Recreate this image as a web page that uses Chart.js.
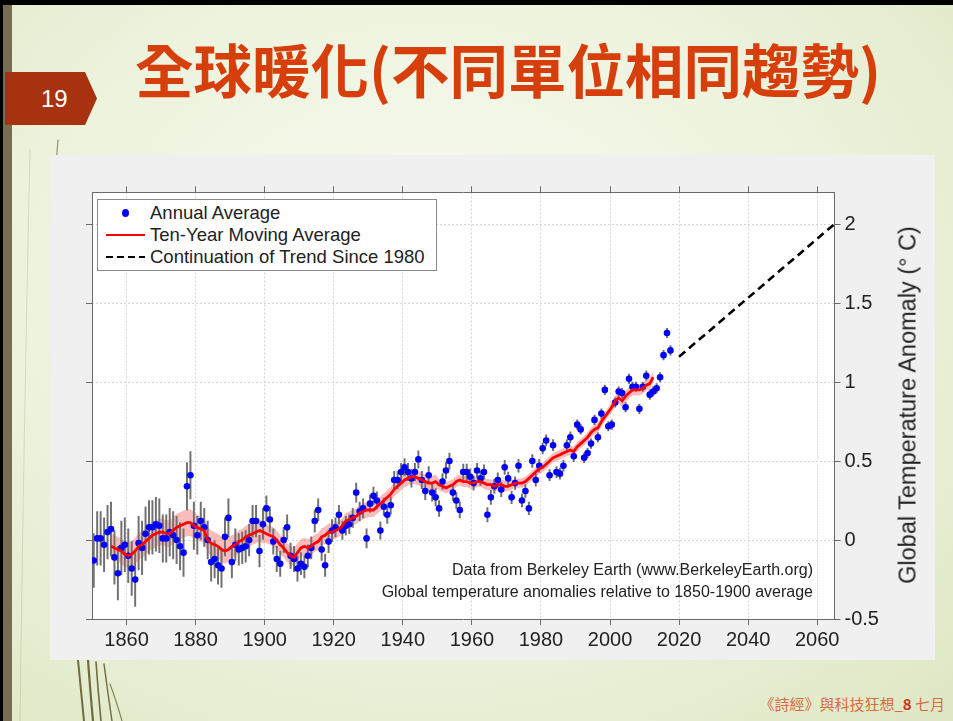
<!DOCTYPE html>
<html><head><meta charset="utf-8">
<script src="https://cdn.jsdelivr.net/npm/chart.js@4"></script>
<style>
html,body{margin:0;padding:0;}
body{width:953px;height:721px;overflow:hidden;background:#000;position:relative;font-family:"Liberation Sans",Arial,sans-serif;}
.abs{position:absolute;}
#slide{left:3px;top:5px;width:950px;height:716px;background:radial-gradient(ellipse 75% 80% at 45% 40%, #f8faf1 0%, #eef3de 55%, #dfe8c6 100%);}
#lbar{left:3px;top:5px;width:9px;height:716px;background:#766d52;}
#num{left:5px;top:72px;width:92px;height:53px;background:#a8320f;clip-path:polygon(0 0,87% 0,100% 50%,87% 100%,0 100%);color:#fff;font-size:24px;line-height:53px;text-indent:36px;}
#title{left:0;top:28px;width:1016px;text-align:center;color:#d63f0c;font-family:"Noto Sans CJK TC",sans-serif;font-weight:bold;font-size:58.5px;line-height:80px;white-space:nowrap;}
#box{left:50px;top:155px;width:885px;height:505px;background:#f0f0f0;}
#legend{left:97px;top:199px;width:338px;height:70px;background:#fff;border:1px solid #8a8a8a;}
.lt{position:absolute;left:150px;font-size:18.5px;color:#222;line-height:22px;white-space:nowrap;}
.note{position:absolute;right:140px;font-size:16px;color:#222;line-height:20px;white-space:nowrap;}
#ytitle{left:908px;top:405px;transform:translate(-50%,-50%) rotate(-90deg);font-size:23.5px;color:#222;white-space:nowrap;}
#foot{right:8px;top:693px;font-family:"Noto Sans CJK TC",sans-serif;font-size:15px;color:#d76b42;white-space:nowrap;}
#foot b{color:#c23a1c;}
</style></head>
<body>
<div id="slide" class="abs"></div>
<div id="lbar" class="abs"></div>
<svg class="abs" style="left:0;top:0" width="953" height="721">
 <g fill="none" stroke="#6f6b3e" stroke-linecap="round">
  <path d="M58 140 Q57 152 56 166" stroke-width="1.2" opacity="0.7"/>
  <path d="M84 721 Q81 690 78 660" stroke-width="2"/>
  <path d="M93 721 Q90 688 88 660" stroke-width="2.2"/>
  <path d="M101 721 Q98 690 96 662" stroke-width="1.6"/>
  <path d="M112 721 Q108 694 104 664" stroke-width="1.4"/>
  <path d="M122 721 Q116 700 110 684" stroke-width="1.2" opacity="0.8"/>
  <path d="M20 721 Q24 420 30 150" stroke-width="1" opacity="0.18"/>
 </g>
</svg>
<div id="num" class="abs">19</div>
<div id="title" class="abs">全球暖化(不同單位相同趨勢)</div>
<div id="box" class="abs"><canvas id="c" width="885" height="505"></canvas></div>
<div id="legend" class="abs"></div>
<div class="abs" style="left:122px;top:209px;width:7px;height:8px;border-radius:50%;background:#0000ff"></div>
<div class="abs" style="left:106px;top:233.5px;width:39px;height:2.6px;background:#ff0000"></div>
<div class="abs" style="left:106px;top:255.5px;width:39px;height:2.6px;background:repeating-linear-gradient(90deg,#000 0 7px,transparent 7px 11px)"></div>
<div class="lt" style="top:202px">Annual Average</div>
<div class="lt" style="top:224px">Ten-Year Moving Average</div>
<div class="lt" style="top:246px">Continuation of Trend Since 1980</div>
<div class="note" style="top:560px">Data from Berkeley Earth (www.BerkeleyEarth.org)</div>
<div class="note" style="top:582px">Global temperature anomalies relative to 1850-1900 average</div>
<div id="ytitle" class="abs">Global Temperature Anomaly (° C)</div>
<div id="foot" class="abs">《詩經》與科技狂想_<b>8</b> 七月</div>
<script>
// ---- data ----
const annualStartYear = 1850;
const annualValues = [
 -0.13, 0.01, 0.01,-0.03, 0.05, 0.07,-0.11,-0.21,-0.05,-0.03,
 -0.10,-0.18,-0.25,-0.02,-0.05, 0.04, 0.08, 0.08, 0.10, 0.09,
  0.01, 0.01, 0.05, 0.03, 0.00,-0.04,-0.08, 0.34, 0.41, 0.09,
  0.03, 0.12, 0.08, 0.00,-0.14,-0.12,-0.16,-0.18, 0.02, 0.14,
 -0.14,-0.03,-0.06,-0.05,-0.04, 0.00, 0.12, 0.12,-0.07, 0.10,
  0.20, 0.13,-0.01,-0.12,-0.15, 0.00, 0.08,-0.10,-0.12,-0.18,
 -0.15,-0.17,-0.10,-0.05, 0.12, 0.19,-0.06,-0.16,-0.01, 0.06,
  0.08, 0.16, 0.06, 0.09, 0.10, 0.14, 0.30, 0.18, 0.20, 0.01,
  0.23, 0.28, 0.25, 0.06, 0.21, 0.16, 0.22, 0.38, 0.38, 0.43,
  0.46, 0.43, 0.39, 0.43, 0.51, 0.38, 0.31, 0.41, 0.30, 0.27,
  0.20, 0.37, 0.44, 0.50, 0.30, 0.25, 0.19, 0.43, 0.43, 0.40,
  0.36, 0.44, 0.39, 0.43, 0.16, 0.27, 0.34, 0.38, 0.32, 0.46,
  0.39, 0.27, 0.36, 0.47, 0.25, 0.31, 0.20, 0.50, 0.38, 0.47,
  0.58, 0.63, 0.41, 0.60, 0.43, 0.42, 0.47, 0.60, 0.65, 0.53,
  0.73, 0.70, 0.52, 0.55, 0.61, 0.76, 0.65, 0.80, 0.95, 0.72,
  0.73, 0.87, 0.94, 0.93, 0.84, 1.02, 0.97, 0.97, 0.83, 0.97,
  1.04, 0.92, 0.94, 0.96, 1.03, 1.17, 1.31, 1.20
];
// half-length of annual uncertainty bars, per decade from 1850
const annualErrorByDecade = [0.17,0.17,0.15,0.12,0.10,0.08,0.07,0.06,0.055,0.055,0.05,0.045,0.04,0.035,0.03,0.03,0.03];
const movingStartYear = 1855;
const movingValues = [
 -0.04,-0.05,-0.06,-0.07,-0.09,
 -0.10,-0.09,-0.07,-0.04,-0.03,-0.01, 0.01, 0.03, 0.04, 0.05,
  0.05, 0.04, 0.04, 0.06, 0.08, 0.09, 0.10, 0.11, 0.11, 0.09,
  0.08, 0.07, 0.06, 0.00,-0.02,-0.03,-0.04,-0.06,-0.07,-0.06,
 -0.04,-0.03,-0.01, 0.00, 0.02, 0.03, 0.04, 0.05, 0.06, 0.05,
  0.04, 0.03, 0.02, 0.00,-0.03,-0.05,-0.08,-0.10,-0.11,-0.08,
 -0.05,-0.04,-0.05,-0.04,-0.02,-0.01, 0.02, 0.03, 0.05, 0.05,
  0.06, 0.07, 0.09, 0.12, 0.13, 0.14, 0.15, 0.17, 0.18, 0.19,
  0.19, 0.19, 0.21, 0.23, 0.25, 0.27, 0.29, 0.32, 0.34, 0.36,
  0.38, 0.39, 0.40, 0.40, 0.39, 0.38, 0.37, 0.36, 0.36, 0.37,
  0.35, 0.34, 0.33, 0.34, 0.35, 0.37, 0.38, 0.37, 0.37, 0.36,
  0.36, 0.37, 0.37, 0.36, 0.35, 0.35, 0.34, 0.35, 0.35, 0.34,
  0.34, 0.35, 0.36, 0.36, 0.36, 0.37, 0.39, 0.41, 0.43, 0.45,
  0.46, 0.48, 0.50, 0.52, 0.53, 0.54, 0.55, 0.56, 0.57, 0.56,
  0.59, 0.61, 0.63, 0.65, 0.68, 0.70, 0.71, 0.75, 0.78, 0.81,
  0.84, 0.88, 0.90, 0.88, 0.91, 0.93, 0.95, 0.95, 0.95, 0.96,
  0.98, 0.99, 1.03
];
// half-width of the moving-average uncertainty band, per decade from 1850
const bandHalfByDecade = [0.08,0.085,0.085,0.08,0.07,0.06,0.055,0.05,0.045,0.045,0.035,0.035,0.03,0.03,0.03,0.035,0.035];
const trendYears = [2020, 2065];
const trendValues = [1.16, 2.00];
const xTickValues = [1860,1880,1900,1920,1940,1960,1980,2000,2020,2040,2060];
const yTickValues = [-0.5,0,0.5,1,1.5,2];
const yTickLabels = ['-0.5','0','0.5','1','1.5','2'];

// ---- build ----
const dec = y => Math.floor((y - 1850) / 10);
const annualPts = annualValues.map((v,i)=>({x: annualStartYear+i+0.5, y: v}));
const errBars = annualValues.map((v,i)=>{const yr=annualStartYear+i; const e=annualErrorByDecade[dec(yr)]; return {x: yr+0.5, y:[v-e, v+e]};});
const maPts = movingValues.map((v,i)=>({x: movingStartYear+i+0.5, y: v}));
const bandUp = movingValues.map((v,i)=>{const yr=movingStartYear+i; return {x: yr+0.5, y: v+bandHalfByDecade[dec(yr)]};});
const bandLo = movingValues.map((v,i)=>{const yr=movingStartYear+i; return {x: yr+0.5, y: v-bandHalfByDecade[dec(yr)]};});
const trendPts = trendYears.map((x,i)=>({x, y: trendValues[i]}));

const AX = '#6a6a6a', GRID = '#d6d6d6', TXT = '#222';
const F = {family:'"Liberation Sans", Arial, sans-serif', size:20};
const setX = s => { s.ticks = xTickValues.map(v=>({value:v})); };
const setY = s => { s.ticks = yTickValues.map(v=>({value:v})); };

const plotBg = {
  id:'plotBg',
  beforeDraw(chart){
    const {ctx, chartArea:a} = chart;
    ctx.save(); ctx.fillStyle = '#ffffff';
    ctx.fillRect(a.left, a.top, a.right - a.left, a.bottom - a.top);
    ctx.restore();
  }
};

new Chart(document.getElementById('c'), {
  type: 'line',
  plugins: [plotBg],
  data: { datasets: [
    {label:'bandUp', data: bandUp, xAxisID:'x', yAxisID:'y', borderWidth:0, pointRadius:0, fill:'+1', backgroundColor:'rgba(248,120,120,0.5)', order:6},
    {label:'bandLo', data: bandLo, xAxisID:'x', yAxisID:'y', borderWidth:0, pointRadius:0, fill:false, order:5},
    {type:'bar', label:'err', data: errBars, xAxisID:'x', yAxisID:'y', backgroundColor:'#707070', borderWidth:0, barThickness:1.3, order:4},
    {label:'Annual Average', data: annualPts, xAxisID:'x', yAxisID:'y', showLine:false, pointRadius:3.3, pointBackgroundColor:'#0000ff', pointBorderWidth:0, order:3},
    {label:'Ten-Year Moving Average', data: maPts, xAxisID:'x', yAxisID:'y', borderColor:'#ff0000', borderWidth:2.8, pointRadius:0, tension:0, fill:false, order:2},
    {label:'Continuation of Trend Since 1980', data: trendPts, xAxisID:'x', yAxisID:'y', borderColor:'#000', borderWidth:2.6, borderDash:[8,5], pointRadius:0, fill:false, order:1}
  ]},
  options: {
    responsive:false, animation:false, devicePixelRatio:1,
    layout:{padding:0},
    plugins:{legend:{display:false}, tooltip:{enabled:false}},
    scales:{
      x:{type:'linear', position:'bottom', min:1850, max:2065, offset:false, afterBuildTicks:setX,
         ticks:{autoSkip:false, maxRotation:0, color:TXT, font:F, padding:3, callback:v=>String(v)},
         grid:{color:GRID, offset:false, tickLength:6, tickColor:AX}, border:{color:AX, dash:[2,2]},
         afterFit:s=>{s.height=41;}},
      xTop:{type:'linear', position:'top', min:1850, max:2065, offset:false, afterBuildTicks:setX,
         ticks:{display:false}, grid:{drawOnChartArea:false, tickLength:6, tickColor:AX, color:AX},
         border:{color:AX}, afterFit:s=>{s.height=37.4;}},
      y:{type:'linear', position:'right', min:-0.5, max:2.2, afterBuildTicks:setY,
         ticks:{color:TXT, font:F, padding:4, callback:(v,i)=>yTickLabels[yTickValues.indexOf(v)]},
         grid:{color:GRID, tickLength:6, tickColor:AX}, border:{color:AX, dash:[2,2]},
         afterFit:s=>{s.width=100.5;}},
      yLeft:{type:'linear', position:'left', min:-0.5, max:2.2, afterBuildTicks:setY,
         ticks:{display:false}, grid:{drawOnChartArea:false, tickLength:6, tickColor:AX, color:AX},
         border:{color:AX}, afterFit:s=>{s.width=42;}}
    }
  }
});
</script>
</body></html>
